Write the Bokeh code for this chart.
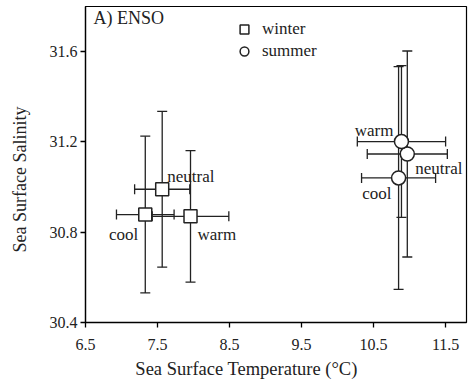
from bokeh.plotting import figure
from bokeh.models import (ColumnDataSource, Whisker, TeeHead, Legend, LegendItem,
                          Label, FixedTicker, LinearAxis)
from bokeh.core.properties import value
from bokeh.embed import file_html
from bokeh.resources import INLINE

# ---- data ----
phases = ["cool", "neutral", "warm"]
winter_sst = [7.33, 7.565, 7.958]
winter_sss = [30.878, 30.99, 30.87]
winter_sst_err = [0.40, 0.383, 0.532]
winter_sss_err = [0.347, 0.345, 0.291]

summer_sst = [10.847, 10.968, 10.887]
summer_sss = [31.04, 31.146, 31.201]
summer_sst_err = [0.514, 0.556, 0.613]
summer_sss_err = [0.493, 0.456, 0.336]

x_ticks = [6.5, 7.5, 8.5, 9.5, 10.5, 11.5]
y_ticks = [30.4, 30.8, 31.2, 31.6]

x_title = "Sea Surface Temperature (°C)"
y_title = "Sea Surface Salinity"
# where the axis titles are centred along their axes (data units)
x_title_at = 8.736
y_title_at = 31.033

# label placement (styles)
winter_lab_dx = [-7, 5, 7]
winter_lab_dy = [20, -13, 18]
winter_lab_align = ["right", "left", "left"]
summer_lab_dx = [-7, 8, -8]
summer_lab_dy = [16, 15, -11]
summer_lab_align = ["right", "left", "right"]

SERIF = "'Liberation Serif', 'Times New Roman', serif"
INK = "#222222"
FW, FH = 381, 316


def make_src(x, y, xe, ye, dx, dy, al):
    return ColumnDataSource(dict(
        x=x, y=y,
        xl=[a - e for a, e in zip(x, xe)], xu=[a + e for a, e in zip(x, xe)],
        yl=[a - e for a, e in zip(y, ye)], yu=[a + e for a, e in zip(y, ye)],
        label=phases, dx=dx, dy=dy, align=al))


wsrc = make_src(winter_sst, winter_sss, winter_sst_err, winter_sss_err,
                winter_lab_dx, winter_lab_dy, winter_lab_align)
ssrc = make_src(summer_sst, summer_sss, summer_sst_err, summer_sss_err,
                summer_lab_dx, summer_lab_dy, summer_lab_align)

p = figure(x_range=(6.5, 11.79), y_range=(30.4, 31.799),
           width=85 + FW + 4, height=6 + FH + 63,
           min_border_left=85, min_border_right=4, min_border_top=6, min_border_bottom=63,
           output_backend="svg", toolbar_location=None)
p.background_fill_color = "white"
p.border_fill_color = "white"
p.outline_line_color = "black"
p.outline_line_width = 1.2
p.xgrid.visible = False
p.ygrid.visible = False

for ax in (p.xaxis[0], p.yaxis[0]):
    ax.axis_line_color = "black"
    ax.axis_line_width = 1.3
    ax.major_tick_line_color = "black"
    ax.major_tick_line_width = 1.3
    ax.major_tick_out = 5
    ax.major_tick_in = 0
    ax.minor_tick_line_color = None
    ax.major_label_text_font = SERIF
    ax.major_label_text_font_size = "16px"
    ax.major_label_text_color = INK

p.xaxis.ticker = FixedTicker(ticks=x_ticks)
p.yaxis.ticker = FixedTicker(ticks=y_ticks)
p.xaxis.major_label_standoff = 11
p.yaxis.major_label_standoff = 3


def title_axis(text, at, **kw):
    return LinearAxis(ticker=FixedTicker(ticks=[at]), major_label_overrides={at: text},
                      axis_line_color=None, major_tick_line_color=None,
                      minor_tick_line_color=None, major_tick_out=0, major_tick_in=0,
                      major_label_text_font=SERIF, major_label_text_color=INK, **kw)


p.add_layout(title_axis(x_title, x_title_at, major_label_standoff=6,
                        major_label_text_font_size="18.5px"), "below")
p.add_layout(title_axis(y_title, y_title_at, major_label_standoff=16,
                        major_label_orientation="vertical",
                        major_label_text_font_size="18px"), "left")

for src in (wsrc, ssrc):
    for base, lo, up, dim in (("x", "yl", "yu", "height"), ("y", "xl", "xu", "width")):
        p.add_layout(Whisker(source=src, base=base, lower=lo, upper=up, dimension=dim,
                             line_color=INK, line_width=1.3,
                             lower_head=TeeHead(size=10, line_width=1.3, line_color=INK),
                             upper_head=TeeHead(size=10, line_width=1.3, line_color=INK)))

sq = p.scatter("x", "y", source=wsrc, marker="square", size=13,
               fill_color="white", line_color=INK, line_width=1.5)
ci = p.scatter("x", "y", source=ssrc, marker="circle", size=14,
               fill_color="white", line_color=INK, line_width=1.5)

for src in (wsrc, ssrc):
    p.text("x", "y", text="label", source=src, x_offset="dx", y_offset="dy",
           text_align="align", text_baseline="alphabetic",
           text_font=value(SERIF), text_font_size="17px", text_color=INK)

legend = Legend(items=[LegendItem(label="winter", renderers=[sq]),
                       LegendItem(label="summer", renderers=[ci])],
                location=(145, 260), border_line_color=None, background_fill_alpha=0,
                label_text_font=SERIF, label_text_font_size="17px",
                label_text_color=INK,
                glyph_width=28, glyph_height=22, spacing=-1, padding=0, margin=0,
                label_standoff=4)
p.add_layout(legend)

p.add_layout(Label(x=8, y=FH - 1, x_units="screen", y_units="screen", text="A) ENSO",
                   text_baseline="top", text_font=SERIF, text_font_size="18px",
                   text_color=INK))

open("out.html", "w").write(file_html(p, INLINE))
